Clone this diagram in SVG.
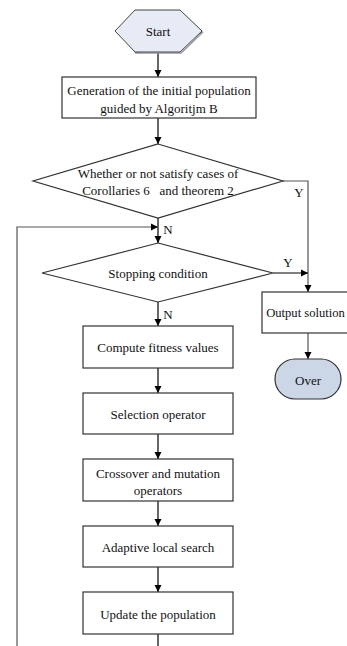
<svg xmlns="http://www.w3.org/2000/svg" width="347" height="646" viewBox="0 0 347 646">
<defs>
<marker id="ah" markerWidth="8" markerHeight="8" refX="7" refY="4" orient="auto" markerUnits="userSpaceOnUse">
<path d="M0,0.5 L7,4 L0,7.5 Z" fill="#000"/>
</marker>
<style>
.box{fill:#fff;stroke:#333;stroke-width:1.2}
.t{font-family:"Liberation Serif","Times New Roman",serif;font-size:13px;fill:#111;text-anchor:middle;dominant-baseline:central}
.c{fill:none;stroke:#000;stroke-width:1.2}
.g{fill:none;stroke:#555;stroke-width:1.2}
</style>
</defs>
<rect width="347" height="646" fill="#fff"/>
<g id="connectors">
<line class="c" x1="158" y1="53" x2="158" y2="77" marker-end="url(#ah)"/>
<line class="c" x1="158" y1="118" x2="158" y2="144" marker-end="url(#ah)"/>
<line class="c" x1="158" y1="218" x2="158" y2="243" marker-end="url(#ah)"/>
<polyline class="g" points="283,181 308,181 308,292" marker-end="url(#ah)"/>
<line class="c" x1="273" y1="273" x2="308" y2="273" marker-end="url(#ah)"/>
<line class="c" x1="158" y1="302" x2="158" y2="326" marker-end="url(#ah)"/>
<line class="c" x1="158" y1="368" x2="158" y2="393" marker-end="url(#ah)"/>
<line class="c" x1="158" y1="434" x2="158" y2="459" marker-end="url(#ah)"/>
<line class="c" x1="158" y1="501" x2="158" y2="526" marker-end="url(#ah)"/>
<line class="c" x1="158" y1="567" x2="158" y2="592" marker-end="url(#ah)"/>
<line class="c" x1="158" y1="634" x2="158" y2="646"/>
<polyline class="g" points="17,646 17,227 158,227" marker-end="url(#ah)"/>
<line class="g" x1="308" y1="333" x2="308" y2="359" marker-end="url(#ah)"/>
<text class="t" x="299" y="192">Y</text>
<text class="t" x="168" y="229">N</text>
<text class="t" x="288" y="262">Y</text>
<text class="t" x="168" y="314">N</text>
</g>
<g id="start">
<polygon points="135,53 181,53 203,32" fill="none" stroke="#999" stroke-width="1.5"/>
<polygon points="115,31 135,10 180,10 202,31 180,52 135,52" fill="#e6ebf6" stroke="#444" stroke-width="1"/>
<text class="t" x="158" y="31">Start</text>
</g>
<g id="init">
<rect class="box" x="62" y="77" width="194" height="41"/>
<text class="t" x="159" y="90">Generation of the initial population</text>
<text class="t" x="159" y="108">guided by Algoritjm B</text>
</g>
<g id="decision1">
<polygon class="box" points="158,144 283,181 158,218 33,181"/>
<text class="t" x="158" y="173">Whether or not satisfy cases of</text>
<text class="t" x="158" y="190" xml:space="preserve">Corollaries 6   and theorem 2</text>
</g>
<g id="decision2">
<polygon class="box" points="158,243 273,273 158,302 42,273"/>
<text class="t" x="158" y="273">Stopping condition</text>
</g>
<g id="output">
<rect class="box" x="262" y="292" width="92" height="41"/>
<text class="t" x="305.5" y="313" style="font-size:12.6px">Output solution</text>
</g>
<g id="over">
<rect x="275" y="359" width="66" height="40" rx="20" ry="20" fill="#cbd7e6" stroke="#333" stroke-width="1.2"/>
<text class="t" x="308" y="380">Over</text>
</g>
<g id="fitness">
<rect class="box" x="83" y="326" width="150" height="42"/>
<text class="t" x="158" y="347">Compute fitness values</text>
</g>
<g id="selection">
<rect class="box" x="83" y="393" width="150" height="41"/>
<text class="t" x="158" y="414">Selection operator</text>
</g>
<g id="crossover">
<rect class="box" x="83" y="459" width="150" height="42"/>
<text class="t" x="158" y="473">Crossover and mutation</text>
<text class="t" x="158" y="490">operators</text>
</g>
<g id="localsearch">
<rect class="box" x="83" y="526" width="150" height="41"/>
<text class="t" x="158" y="547">Adaptive local search</text>
</g>
<g id="update">
<rect class="box" x="83" y="592" width="150" height="42"/>
<text class="t" x="158" y="614">Update the population</text>
</g>
</svg>
